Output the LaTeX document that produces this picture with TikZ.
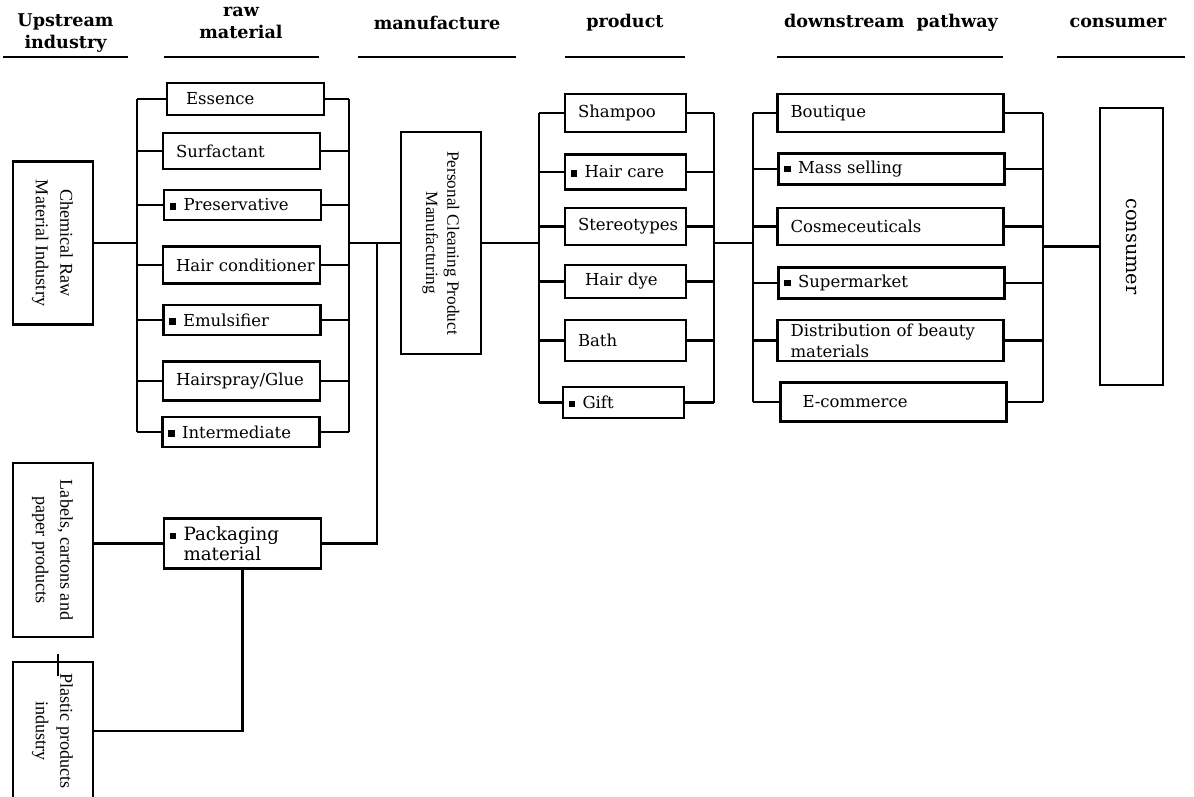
\documentclass[tikz,border=0pt]{standalone}
\usepackage{fontspec}
\usepackage{graphicx}
\setmainfont{DejaVu Serif}
\newfontfamily\sidefont{Liberation Serif}
\usetikzlibrary{positioning}
\newcommand{\ind}{\hspace*{0.2cm}}
\newcommand{\sqm}{\hspace*{0.05cm}\rule[0.15ex]{0.13cm}{0.13cm}\hspace{0.15cm}}
\newcommand{\vtext}[1]{\rotatebox{-90}{\begin{tabular}{@{}c@{}}#1\end{tabular}}}
\tikzset{
    head/.style={font=\fontsize{10}{12.5}\selectfont\bfseries, align=center, inner sep=0pt},
    hdline/.style={fill=black, minimum height=0.045cm, inner sep=0pt},
    item/.style={draw, line width=1.6pt, align=left, inner xsep=0.06cm, inner ysep=0pt, font=\fontsize{9.4}{12}\selectfont},
    rawbox/.style={item, text width=3.02cm, minimum height=0.72cm},
    prodbox/.style={item, text width=2.3cm, minimum height=0.74cm},
    downbox/.style={item, text width=4.4cm, minimum height=0.74cm},
    sidebox/.style={draw, line width=1.6pt, inner sep=0pt, font=\sidefont\fontsize{10.3}{14}\selectfont},
    wire/.style={line width=1.5pt}
}

\begin{document}
\begin{tikzpicture}[x=0.02cm, y=-0.02cm]
        \useasboundingbox (0,0) rectangle (1194,796);
        \clip (0,0) rectangle (1194,796);

        % Headings
        \node (h_up) [head] at (65.5,33) {Upstream\\industry};
        \node (h_raw) [head] at (241,23) {raw\\material};
        \node (h_man) [head] at (437,23) {manufacture};
        \node (h_prod) [head] at (625,23) {product};
        \node (h_down) [head] at (891,23) {downstream\ \ pathway};
        \node (h_cons) [head] at (1118,23) {consumer};

        \node (u_up) [hdline, minimum width=2.5cm] at (65.5,57) {};
        \node (u_raw) [hdline, minimum width=3.1cm] at (241.5,57) {};
        \node (u_man) [hdline, minimum width=3.16cm] at (437,57) {};
        \node (u_prod) [hdline, minimum width=2.4cm] at (625,57) {};
        \node (u_down) [hdline, minimum width=4.52cm] at (890,57) {};
        \node (u_cons) [hdline, minimum width=2.56cm] at (1121,57) {};

        % Upstream industries
        \node (chem) [sidebox, minimum width=1.6cm, minimum height=3.26cm] at (53,243) {\vtext{Chemical Raw\\Material Industry}};
        \node (labels) [sidebox, minimum width=1.6cm, minimum height=3.48cm] at (53,550) {\vtext{Labels, cartons and\\paper products}};
        \node (plastic) [sidebox, minimum width=1.6cm, minimum height=2.76cm] at (53,731) {\vtext{Plastic products\\industry}};

        % Raw materials
        \node (ess) [rawbox, minimum height=0.64cm] at (245.5,99) {\ind\hspace*{0.12cm}Essence};
        \node (surf) [rawbox] at (241.5,151) {\ind Surfactant};
        \node (pres) [rawbox, minimum height=0.6cm] at (242.5,205) {\sqm Preservative};
        \node (cond) [rawbox, minimum height=0.74cm] at (241.5,265) {\ind Hair conditioner};
        \node (emul) [rawbox, minimum height=0.6cm] at (242,320) {\sqm Emulsifier};
        \node (spray) [rawbox, minimum height=0.78cm] at (241.5,381) {\ind Hairspray/Glue};
        \node (inter) [rawbox, minimum height=0.6cm] at (241,432) {\sqm Intermediate};
        \node (pack) [rawbox, minimum height=1cm, font=\fontsize{10.4}{8.8}\selectfont] at (242.5,543.5) {\sqm Packaging\\\hspace*{0.33cm}material};

        % Manufacture
        \node (manuf) [sidebox, minimum width=1.6cm, minimum height=4.44cm, font=\sidefont\fontsize{9.8}{12}\selectfont] at (441,243) {\vtext{Personal Cleaning Product\\Manufacturing}};

        % Products
        \node (sham) [prodbox, minimum height=0.76cm] at (625.5,113) {\ind Shampoo};
        \node (hcare) [prodbox, minimum height=0.7cm] at (625.5,172) {\sqm Hair care};
        \node (stereo) [prodbox] at (625.5,226.5) {\ind Stereotypes};
        \node (dye) [prodbox, minimum height=0.66cm] at (625.5,281.5) {\ind\hspace*{0.14cm}Hair dye};
        \node (bath) [prodbox, minimum height=0.82cm] at (625.5,340.5) {\ind Bath};
        \node (gift) [prodbox, minimum height=0.62cm] at (623.5,402.5) {\sqm Gift};

        % Downstream pathways
        \node (bout) [downbox, minimum height=0.76cm] at (890.5,113) {\ind Boutique};
        \node (mass) [downbox, minimum height=0.62cm] at (891.5,169) {\sqm Mass selling};
        \node (cosm) [downbox] at (890.5,226.5) {\ind Cosmeceuticals};
        \node (super) [downbox, minimum height=0.62cm] at (891.5,283) {\sqm Supermarket};
        \node (distr) [downbox, minimum height=0.82cm] at (890.5,340.5) {\ind Distribution of beauty\\\ind materials};
        \node (ecom) [downbox, minimum height=0.78cm] at (893.5,402) {\ind\hspace*{0.18cm}E-commerce};

        % Consumer
        \node (cons) [sidebox, minimum width=1.26cm, minimum height=5.54cm, font=\fontsize{11}{13}\selectfont] at (1131.5,246.5) {\vtext{consumer}};

        % Bus positions
        \coordinate (rawL) at (137,0);
        \coordinate (rawR) at (349,0);
        \coordinate (pkgV) at (377,0);
        \coordinate (prodL) at (539,0);
        \coordinate (prodR) at (714,0);
        \coordinate (dnL) at (753,0);
        \coordinate (dnR) at (1043,0);

        % Upstream to raw materials
        \draw[wire] (chem.east) -- (chem.east -| rawL);
        \draw[wire] (ess.west -| rawL) -- (inter.west -| rawL);
        \draw[wire] (ess.east -| rawR) -- (inter.east -| rawR);
        \foreach \nm in {ess,surf,pres,cond,emul,spray,inter}{
            \draw[wire] (\nm.west) -- (\nm.west -| rawL);
            \draw[wire] (\nm.east) -- (\nm.east -| rawR);
        }
        \draw[wire] (labels.east |- pack.west) -- (pack.west);
        \draw[wire] (pack.south) |- (plastic.east);
        \draw[line width=1pt] ([xshift=0.1cm,yshift=0.14cm]plastic.north) -- ++(0,22);

        % Raw materials to manufacture
        \draw[wire] (rawR |- manuf.west) -- (manuf.west);
        \draw[wire] (pack.east) -| (pkgV |- manuf.west);

        % Manufacture to products
        \draw[wire] (manuf.east) -- (manuf.east -| prodL);
        \draw[wire] (sham.west -| prodL) -- (gift.west -| prodL);
        \draw[wire] (sham.east -| prodR) -- (gift.east -| prodR);
        \foreach \nm in {sham,hcare,stereo,dye,bath,gift}{
            \draw[wire] (\nm.west) -- (\nm.west -| prodL);
            \draw[wire] (\nm.east) -- (\nm.east -| prodR);
        }

        % Products to downstream pathways
        \draw[wire] (prodR |- manuf.east) -- (dnL |- manuf.east);
        \draw[wire] (bout.west -| dnL) -- (ecom.west -| dnL);
        \draw[wire] (bout.east -| dnR) -- (ecom.east -| dnR);
        \foreach \nm in {bout,mass,cosm,super,distr,ecom}{
            \draw[wire] (\nm.west) -- (\nm.west -| dnL);
            \draw[wire] (\nm.east) -- (\nm.east -| dnR);
        }

        % Downstream pathways to consumer
        \draw[wire] (dnR |- cons.west) -- (cons.west);

    \end{tikzpicture}
\end{document}
